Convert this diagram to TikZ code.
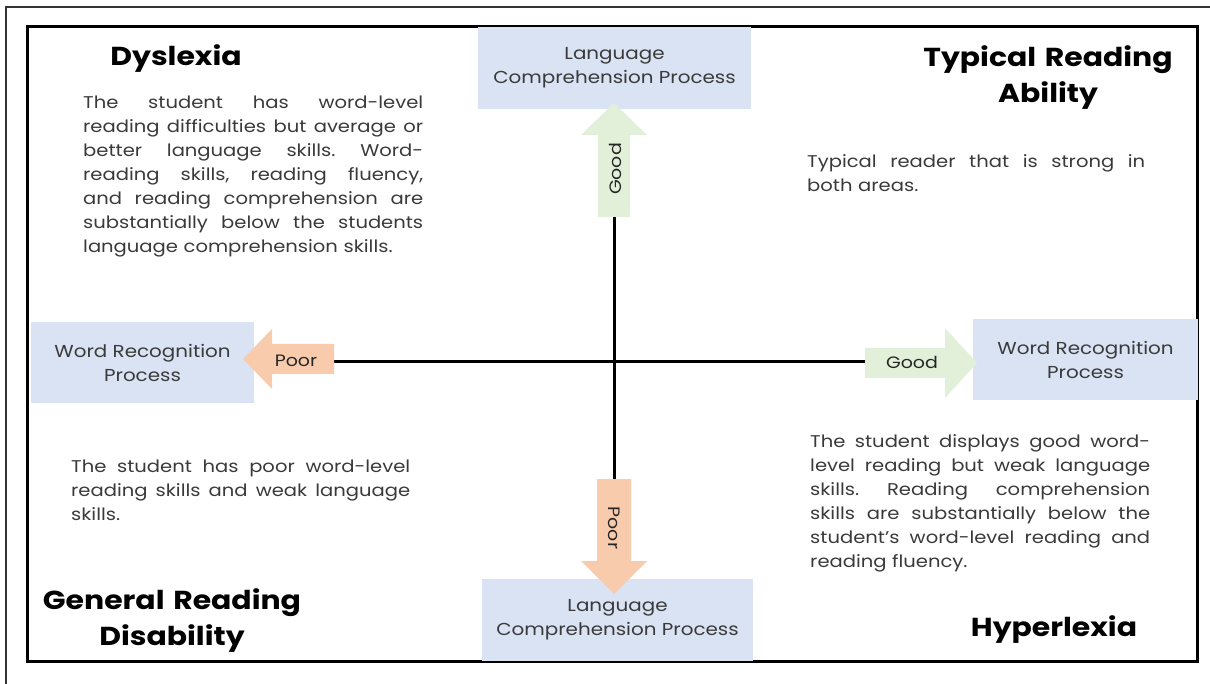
\documentclass[tikz,border=0pt]{standalone}
\usepackage{fontspec}
\setmainfont{Poppins}[FakeStretch=1.15]
\definecolor{boxblue}{HTML}{DAE3F3}
\definecolor{agreen}{HTML}{E2F0D9}
\definecolor{aorange}{HTML}{F8CBAD}
\definecolor{txtgray}{HTML}{3A3A3A}
\newcommand{\jl}[2]{\makebox[#1][s]{\frenchspacing\spaceskip=0.28em plus 1fil\xspaceskip=0.28em plus 1fil\relax #2}}
\tikzset{
  procbox/.style={fill=boxblue, draw=none, align=center, text=txtgray,
    font=\fontsize{17.3}{24}\selectfont, inner sep=0pt},
  axisline/.style={line width=3pt, black},
  quadtitle/.style={font=\bfseries\fontsize{26}{36}\selectfont, align=center,
    text=black, anchor=base, inner sep=0pt, text width=320pt},
  bodytext/.style={font=\fontsize{17}{24}\selectfont, text=txtgray,
    anchor=base west, inner sep=0pt, align=left},
  arrowlabel/.style={font=\fontsize{16.5}{20}\selectfont, text=black!85, inner sep=0pt},
}
\begin{document}
\begin{tikzpicture}[x=1pt,y=-1pt]
\useasboundingbox (0,0) rectangle (1210,684);
\fill[white] (0,0) rectangle (1210,684);
% frames
\draw[line width=1.5pt, black!80] (6,684) -- (6,7) -- (1210,7);
\draw[line width=3pt, black] (27.5,26.5) rectangle (1197,661.5);

% process boxes
\node[procbox, minimum width=273pt, minimum height=82pt] (lcTop) at (614.5,68) {Language\\Comprehension Process};
\node[procbox, minimum width=271pt, minimum height=82pt] (lcBot) at (617.5,620) {Language\\Comprehension Process};
\node[procbox, minimum width=223pt, minimum height=81pt] (wrLeft) at (142.5,362.5) {Word Recognition\\Process};
\node[procbox, minimum width=225pt, minimum height=81pt] (wrRight) at (1085.5,359.5) {Word Recognition\\Process};

% axis tails
\coordinate (upTail) at (614,217);
\coordinate (downTail) at (614,479);
\coordinate (leftTail) at (334,362);
\coordinate (rightTail) at (865,362);
\draw[axisline] (upTail) -- (downTail);
\draw[axisline] (leftTail) -- (rightTail);

% block arrows
\fill[agreen] (598,217) -- (598,135) -- (581,135) -- (614,103) -- (647,135) -- (630,135) -- (630,217) -- cycle;
\fill[aorange] (597,479) -- (597,561) -- (581,561) -- (614,594) -- (647,561) -- (631,561) -- (631,479) -- cycle;
\fill[aorange] (334,344) -- (272,344) -- (272,329) -- (243,359) -- (272,389) -- (272,374) -- (334,374) -- cycle;
\fill[agreen] (865,348) -- (945,348) -- (945,328) -- (977,363) -- (945,398) -- (945,378) -- (865,378) -- cycle;

\node[arrowlabel, rotate=90] (goodUp) at (615,169) {Good};
\node[arrowlabel, rotate=-90] (poorDown) at (614,528) {Poor};
\node[arrowlabel] (poorLeft) at (296,361) {Poor};
\node[arrowlabel] (goodRight) at (912,362) {Good};

% titles
\node[quadtitle] (tDys) at (176,66) {Dyslexia};
\node[quadtitle] (tTyp) at (1048,67) {Typical Reading\\Ability};
\node[quadtitle] (tGen) at (172,609) {General Reading\\Disability};
\node[quadtitle] (tHyp) at (1054,636) {Hyperlexia};

% body texts
\node[bodytext, text width=340pt] (bDys) at (83,109) {%
\jl{340pt}{The student has word-level}\\
\jl{340pt}{reading difficulties but average or}\\
\jl{340pt}{better language skills. Word-}\\
\jl{340pt}{reading skills, reading fluency,}\\
\jl{340pt}{and reading comprehension are}\\
\jl{340pt}{substantially below the students}\\
language comprehension skills.};

\node[bodytext, text width=338pt] (bTyp) at (807,168) {%
\jl{338pt}{Typical reader that is strong in}\\
both areas.};

\node[bodytext, text width=339pt] (bGen) at (71,472) {%
\jl{339pt}{The student has poor word-level}\\
\jl{339pt}{reading skills and weak language}\\
skills.};

\node[bodytext, text width=340pt] (bHyp) at (810,447) {%
\jl{340pt}{The student displays good word-}\\
\jl{340pt}{level reading but weak language}\\
\jl{340pt}{skills. Reading comprehension}\\
\jl{340pt}{skills are substantially below the}\\
\jl{340pt}{student’s word-level reading and}\\
reading fluency.};
\end{tikzpicture}
\end{document}
